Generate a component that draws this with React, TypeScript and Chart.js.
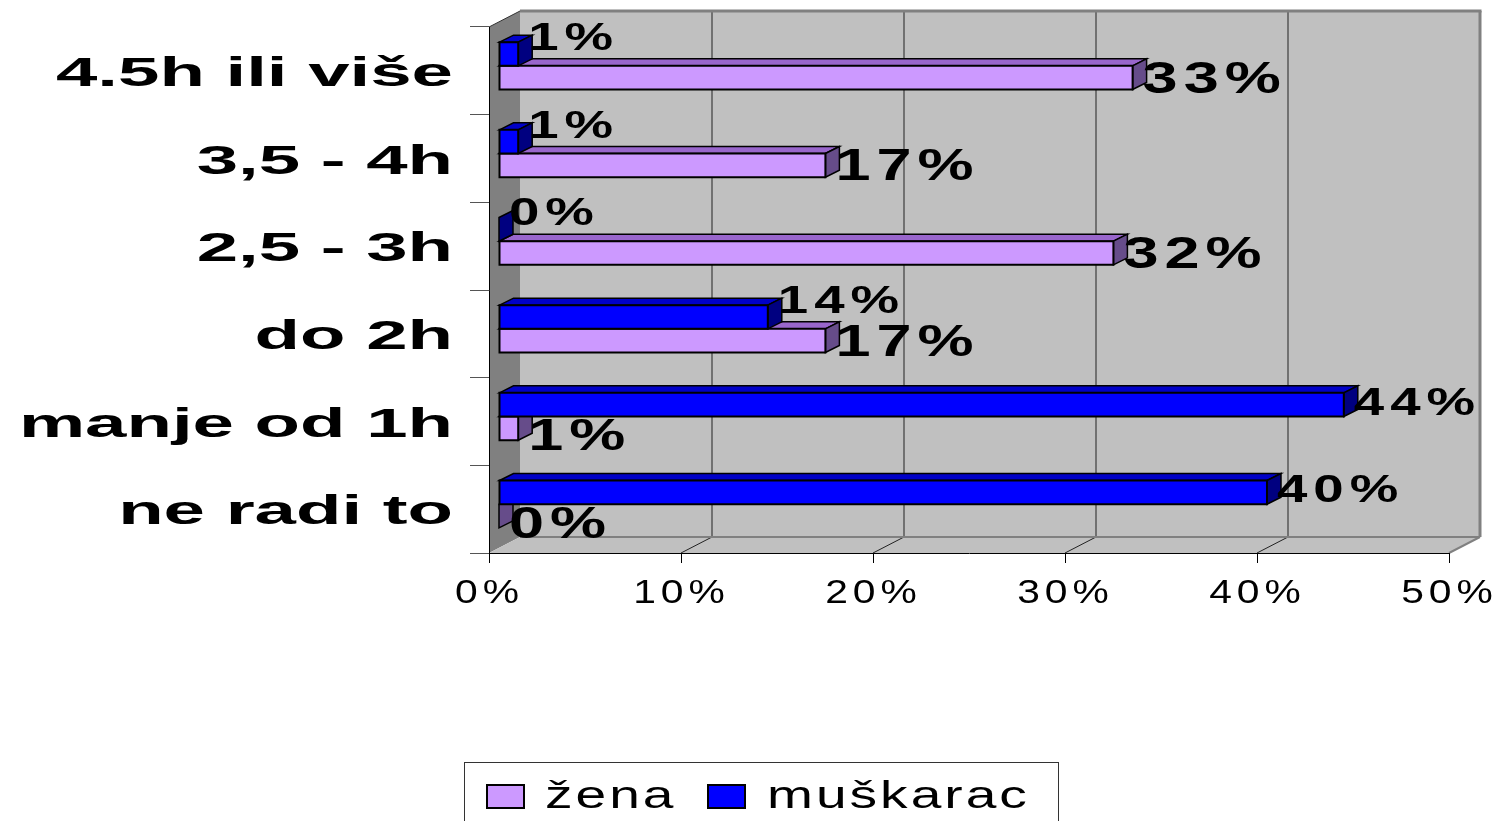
import React, { useEffect, useRef } from "react";
import { Chart, registerables } from "chart.js";

Chart.register(...registerables);

// ---- data ----
const categories = ["4.5h ili više", "3,5 - 4h", "2,5 - 3h", "do 2h", "manje od 1h", "ne radi to"];
const zenaValues = [33, 17, 32, 17, 1, 0];
const muskaracValues = [1, 1, 0, 14, 44, 40];
const xMin = 0;
const xMax = 50;
const xStep = 10;
const seriesZena = "žena";
const seriesMuskarac = "muškarac";

// ---- style constants ----
const FONT = '"Liberation Sans", Arial, sans-serif';
const WALL_DX = 31;
const WALL_DY = -16;
const BAR_FX = 10;
const BAR_FY = -5;
const BAR_DX = 14;
const BAR_DY = -7;

function poly(ctx: CanvasRenderingContext2D, pts: number[][], fill?: string, stroke?: string, lw = 1) {
  ctx.beginPath();
  ctx.moveTo(pts[0][0], pts[0][1]);
  for (let i = 1; i < pts.length; i++) ctx.lineTo(pts[i][0], pts[i][1]);
  ctx.closePath();
  if (fill) {
    ctx.fillStyle = fill;
    ctx.fill();
  }
  if (stroke) {
    ctx.strokeStyle = stroke;
    ctx.lineWidth = lw;
    ctx.stroke();
  }
}

function line(ctx: CanvasRenderingContext2D, x1: number, y1: number, x2: number, y2: number, color: string, lw: number) {
  ctx.beginPath();
  ctx.moveTo(x1, y1);
  ctx.lineTo(x2, y2);
  ctx.strokeStyle = color;
  ctx.lineWidth = lw;
  ctx.stroke();
}

function stretchText(
  ctx: CanvasRenderingContext2D,
  text: string,
  x: number,
  y: number,
  sx: number,
  font: string,
  align: CanvasTextAlign,
  spacing = 0
) {
  ctx.save();
  ctx.font = font;
  ctx.textAlign = align;
  ctx.textBaseline = "alphabetic";
  ctx.fillStyle = "#000";
  (ctx as any).letterSpacing = `${spacing / sx}px`;
  let ax = x;
  if (align === "right") ax = x + spacing;
  else if (align === "center") ax = x + spacing / 2;
  ctx.translate(ax, y);
  ctx.scale(sx, 1);
  ctx.fillText(text, 0, 0);
  ctx.restore();
}

const threeDPlugin = {
  id: "threeD",
  beforeDraw(chart: any) {
    const { ctx, chartArea: a } = chart;
    const xs = chart.scales.x;
    ctx.save();
    ctx.fillStyle = "#fff";
    ctx.fillRect(0, 0, chart.width, chart.height);
    const bl = a.left + WALL_DX;
    const bt = a.top + WALL_DY;
    const br = a.right + WALL_DX;
    const bb = a.bottom + WALL_DY;
    ctx.fillStyle = "#C0C0C0";
    ctx.fillRect(bl, bt, br - bl, bb - bt);
    poly(ctx, [[a.left, a.top], [bl, bt], [bl, bb], [a.left, a.bottom]], "#808080");
    poly(ctx, [[a.left, a.bottom], [bl, bb], [br, bb], [a.right, a.bottom]], "#C0C0C0");
    xs.ticks.forEach((t: any) => {
      if (t.value <= xMin || t.value >= xMax) return;
      const px = xs.getPixelForValue(t.value);
      line(ctx, px + WALL_DX, bt, px + WALL_DX, bb, "#222", 1);
      line(ctx, px + WALL_DX, bb, px, a.bottom, "#222", 1);
    });
    line(ctx, bl, bt, br + 1.5, bt, "#808080", 3);
    line(ctx, br, bt, br, bb, "#808080", 3);
    line(ctx, bl, bb, br, bb, "#808080", 2);
    line(ctx, br, bb, a.right, a.bottom, "#808080", 2);
    line(ctx, a.left, a.top, bl, bt, "#333", 1);
    ctx.restore();
  },
  beforeDatasetsDraw(chart: any) {
    const { ctx } = chart;
    ctx.save();
    ctx.lineJoin = "miter";
    const order = [1, 0];
    for (const di of order) {
      const meta = chart.getDatasetMeta(di);
      const ds = chart.data.datasets[di];
      meta.data.forEach((el: any) => {
        const { x, y, base, height } = el.getProps(["x", "y", "base", "height"], true);
        const x0 = base + BAR_FX;
        const x1 = x + BAR_FX;
        const top = y - height / 2 + BAR_FY;
        const bot = y + height / 2 + BAR_FY;
        if (x1 - x0 > 0.5) {
          poly(ctx, [[x0, top], [x0 + BAR_DX, top + BAR_DY], [x1 + BAR_DX, top + BAR_DY], [x1, top]], ds.topColor, "#000", 1.5);
        }
        poly(ctx, [[x1, top], [x1 + BAR_DX, top + BAR_DY], [x1 + BAR_DX, bot + BAR_DY], [x1, bot]], ds.sideColor, "#000", 1.5);
        if (x1 - x0 > 0.5) {
          poly(ctx, [[x0, top], [x1, top], [x1, bot], [x0, bot]], ds.backgroundColor, "#000", 2);
        }
      });
    }
    ctx.restore();
    return false;
  },
  afterDraw(chart: any) {
    const { ctx, chartArea: a } = chart;
    const xs = chart.scales.x;
    const ys = chart.scales.y;
    ctx.save();
    ys.ticks.forEach((t: any, i: number) => {
      const py = ys.getPixelForTick(i);
      stretchText(ctx, String(chart.data.labels[i]), 453, py + 15, 1.86, `bold 40px ${FONT}`, "right");
    });
    xs.ticks.forEach((t: any) => {
      const px = xs.getPixelForValue(t.value);
      stretchText(ctx, `${t.value}%`, px - 2, a.bottom + 50, 1.2, `34px ${FONT}`, "center", 5);
    });
    const d0 = chart.data.datasets[0];
    const d1 = chart.data.datasets[1];
    [1, 0].forEach((di) => {
      const meta = chart.getDatasetMeta(di);
      const ds = chart.data.datasets[di];
      const other = di === 0 ? d1 : d0;
      meta.data.forEach((el: any, i: number) => {
        const { x, y } = el.getProps(["x", "y"], true);
        const v = ds.data[i];
        const ov = other.data[i];
        const fx = x + BAR_FX;
        const fy = y + BAR_FY;
        let cy: number;
        let size: number;
        if (di === 0) {
          cy = fy + (ov > v ? -18 : -4);
          size = 39;
        } else {
          cy = fy + (ov > v ? 6 : -1);
          size = 45;
        }
        stretchText(ctx, `${v}%`, fx + 10, cy + size * 0.358, 1.4, `bold ${size}px ${FONT}`, "left", 6);
      });
    });
    ctx.strokeStyle = "#333";
    ctx.lineWidth = 1;
    ctx.strokeRect(464.5, 762.5, 594, 80);
    const legendItems = [d1, d0];
    const boxX = [487, 708];
    const textX = [545, 767];
    legendItems.forEach((ds: any, i: number) => {
      ctx.fillStyle = ds.backgroundColor;
      ctx.fillRect(boxX[i], 785, 37, 23);
      ctx.strokeStyle = "#000";
      ctx.lineWidth = 2;
      ctx.strokeRect(boxX[i], 785, 37, 23);
      stretchText(ctx, ds.label, textX[i], 808, 1.45, `38px ${FONT}`, "left", 3);
    });
    ctx.restore();
  },
};

export default function App() {
  const ref = useRef<HTMLCanvasElement | null>(null);
  useEffect(() => {
    if (!ref.current) return;
    const chart = new Chart(ref.current, {
      type: "bar",
      data: {
        labels: categories,
        datasets: [
          {
            label: seriesMuskarac,
            data: muskaracValues,
            backgroundColor: "#0000FF",
            topColor: "#0000C8",
            sideColor: "#000080",
            categoryPercentage: 0.54,
            barPercentage: 1,
          } as any,
          {
            label: seriesZena,
            data: zenaValues,
            backgroundColor: "#CC99FF",
            topColor: "#9966CC",
            sideColor: "#664C8A",
            categoryPercentage: 0.54,
            barPercentage: 1,
          } as any,
        ],
      },
      options: {
        indexAxis: "y",
        animation: false,
        responsive: false,
        devicePixelRatio: 1,
        layout: { padding: { top: 27, right: 51, left: 0, bottom: 0 } },
        plugins: { legend: { display: false }, tooltip: { enabled: false } },
        scales: {
          x: {
            type: "linear",
            min: xMin,
            max: xMax,
            ticks: { stepSize: xStep, display: false },
            grid: { drawOnChartArea: false, drawTicks: true, tickLength: 10, tickColor: "#000" },
            border: { display: true, color: "#000", width: 1 },
            afterFit: (s: any) => {
              s.height = 821 - 553;
            },
          },
          y: {
            type: "category",
            ticks: { display: false },
            grid: { drawOnChartArea: false, drawTicks: true, tickLength: 19, tickColor: "#555", offset: true },
            border: { display: true, color: "#000", width: 1 },
            afterFit: (s: any) => {
              s.width = 489;
            },
          },
        },
      } as any,
      plugins: [threeDPlugin],
    });
    return () => chart.destroy();
  }, []);
  return (
    <div style={{ position: "fixed", left: 0, top: 0, width: 1500, height: 821, background: "#fff" }}>
      <canvas ref={ref} width={1500} height={821} style={{ width: 1500, height: 821, display: "block" }} />
    </div>
  );
}
